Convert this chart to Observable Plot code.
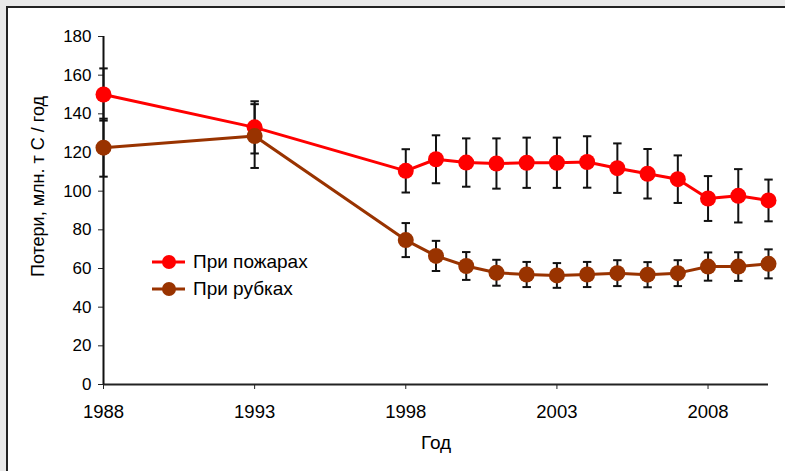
<!DOCTYPE html>
<html>
<head>
<meta charset="utf-8">
<script src="https://cdn.jsdelivr.net/npm/d3@7"></script>
<script src="https://cdn.jsdelivr.net/npm/@observablehq/plot@0.6"></script>
<style>
  html, body { margin: 0; padding: 0; background: #e9e9e9; }
  #wrap { position: relative; width: 785px; height: 471px; overflow: hidden; font-family: "Liberation Sans", Arial, sans-serif; }
  #panel { position: absolute; left: 6px; top: 6px; width: 800px; height: 480px; background: #fff; border-left: 2px solid #222; border-top: 2px solid #222; }
  #chart { position: absolute; left: 0; top: 0; }
  #legend { position: absolute; left: 152px; top: 248px; font-size: 19px; color: #000; }
  #legend div { display: flex; align-items: center; height: 27px; }
  #legend svg { margin-right: 7px; }
</style>
</head>
<body>
<div id="wrap">
  <div id="panel"></div>
  <div id="chart"></div>
  <div id="legend"></div>
</div>
<script>
const years = [1988, 1993, 1998, 1999, 2000, 2001, 2002, 2003, 2004, 2005, 2006, 2007, 2008, 2009, 2010];
const fireValues = [150, 133, 110.5, 116.5, 114.8, 114.3, 114.7, 114.7, 115.1, 111.9, 109, 106.2, 96.2, 97.6, 95.2];
const fireErrors = [13.5, 13.5, 11.2, 12.4, 12.5, 13, 13, 13, 13.3, 12.8, 12.8, 12.3, 11.6, 13.8, 10.8];
const loggingValues = [122.5, 128.5, 74.7, 66.5, 61.3, 57.8, 56.9, 56.4, 56.9, 57.6, 56.8, 57.6, 61, 61, 62.4];
const loggingErrors = [15, 16.5, 8.8, 7.8, 7.2, 6.7, 6.5, 6.4, 6.5, 6.7, 6.5, 6.7, 7.3, 7.4, 7.5];
const seriesNames = ["При пожарах", "При рубках"];
const seriesColors = ["#ff0000", "#993300"];
const yTicks = [0, 20, 40, 60, 80, 100, 120, 140, 160, 180];
const xTicks = [1988, 1993, 1998, 2003, 2008];
const yLabel = "Потери, млн. т С / год";
const xLabel = "Год";

const rows = [];
years.forEach((y, i) => {
  rows.push({year: y, value: fireValues[i], err: fireErrors[i], series: seriesNames[0]});
});
years.forEach((y, i) => {
  rows.push({year: y, value: loggingValues[i], err: loggingErrors[i], series: seriesNames[1]});
});
const capHalf = 0.14;

const chart = Plot.plot({
  width: 785,
  height: 471,
  marginLeft: 103,
  marginRight: 17,
  marginTop: 36,
  marginBottom: 87,
  style: {background: "transparent", fontFamily: "Liberation Sans, Arial, sans-serif", fontSize: "17px", color: "#000", overflow: "visible"},
  x: {domain: [1988, 2010], ticks: xTicks, tickFormat: d => String(d), label: null},
  y: {domain: [0, 180], ticks: yTicks, label: null},
  color: {domain: seriesNames, range: seriesColors},
  marks: [
    Plot.axisY({ticks: yTicks, tickSize: 5, tickPadding: 7, fontSize: 17, label: null, stroke: "#222"}),
    Plot.axisX({ticks: xTicks, tickSize: 5, tickPadding: 15, fontSize: 18.5, tickFormat: d => String(d), label: null, stroke: "#222"}),
    Plot.ruleY([0], {stroke: "#222", strokeWidth: 2}),
    Plot.ruleX([1988], {stroke: "#111", strokeWidth: 2}),
    Plot.text([yLabel], {frameAnchor: "left", textAnchor: "middle", dx: -65, dy: -24, rotate: -90, fontSize: 18, fill: "#000"}),
    Plot.text([xLabel], {frameAnchor: "bottom", dy: 64, fontSize: 19, fill: "#000"}),
    Plot.line(rows, {x: "year", y: "value", z: "series", stroke: "series", strokeWidth: 3}),
    Plot.link(rows, {x1: "year", x2: "year", y1: d => d.value - d.err, y2: d => d.value + d.err, stroke: "#111", strokeWidth: 2}),
    Plot.link(rows, {x1: d => d.year - capHalf, x2: d => d.year + capHalf, y1: d => d.value + d.err, y2: d => d.value + d.err, stroke: "#111", strokeWidth: 2}),
    Plot.link(rows, {x1: d => d.year - capHalf, x2: d => d.year + capHalf, y1: d => d.value - d.err, y2: d => d.value - d.err, stroke: "#111", strokeWidth: 2}),
    Plot.dot(rows, {x: "year", y: "value", fill: "series", r: 8})
  ]
});
document.getElementById("chart").appendChild(chart);

const legend = document.getElementById("legend");
seriesNames.forEach((name, i) => {
  const row = document.createElement("div");
  row.innerHTML = `<svg width="34" height="18"><line x1="0" y1="9" x2="33" y2="9" stroke="${seriesColors[i]}" stroke-width="3"/><circle cx="17" cy="9" r="7" fill="${seriesColors[i]}"/></svg><span>${name}</span>`;
  legend.appendChild(row);
});
</script>
</body>
</html>
